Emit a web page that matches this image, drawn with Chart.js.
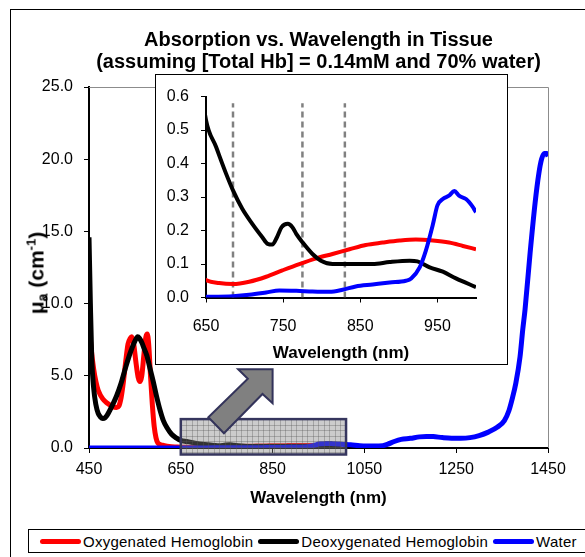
<!DOCTYPE html>
<html lang="en">
<head>
<meta charset="UTF-8" />
<title>Absorption vs. Wavelength in Tissue</title>
<script src="https://cdn.jsdelivr.net/npm/chart.js@4"></script>
<style>
  body { margin: 0; background: #fff; }
  .page {
    position: relative;
    width: 585px;
    height: 557px;
    overflow: hidden;
    font-family: 'Liberation Sans', Arial, sans-serif;
  }
  .frame {
    position: absolute;
    left: 10px;
    top: 9px;
    width: 640px;
    height: 640px;
    border: 1px solid #000;
  }
  #main { position: absolute; left: 0; top: 0; }
  .ytitle {
    position: absolute;
    left: 37px;
    top: 273px;
    transform: translate(-50%, -50%) rotate(-90deg);
    font-size: 21px;
    font-weight: bold;
    white-space: nowrap;
    line-height: 1;
  }
  .ytitle sub { font-size: 14px; vertical-align: -4px; }
  .ytitle sup { font-size: 13px; vertical-align: 8px; }
  .inset {
    position: absolute;
    left: 155px;
    top: 74px;
    width: 351px;
    height: 289px;
    border: 1.5px solid #000;
    background: #fff;
  }
  .inset canvas { position: absolute; left: 0; top: 0; }
  .legend {
    position: absolute;
    left: 28px;
    top: 529px;
    width: 640px;
    height: 24px;
    box-sizing: border-box;
    border: 1px solid #000;
    background: #fff;
    display: flex;
    align-items: center;
    padding-left: 11px;
    font-size: 15px;
    letter-spacing: 0.25px;
    color: #000;
  }
  .legend .swatch {
    display: inline-block;
    width: 41px;
    height: 5px;
    border-radius: 3px;
    margin-right: 2px;
  }
  .legend .item { display: flex; align-items: center; margin-right: 5px; white-space: nowrap; }
</style>
</head>
<body>
<div class="page">
  <div class="frame"></div>
  <canvas id="main" width="585" height="557"></canvas>
  <div class="ytitle">μ<sub>a</sub> (cm<sup>-1</sup>)</div>
  <div class="inset"><canvas id="inset" width="351" height="289"></canvas></div>
  <div class="legend" id="legend"></div>
</div>
<script>
  // data (wavelength in nm, absorption coefficient in cm^-1)
  const titleLines = ['Absorption vs. Wavelength in Tissue', '(assuming [Total Hb] = 0.14mM and 70% water)'];
  const seriesNames = ['Oxygenated Hemoglobin', 'Deoxygenated Hemoglobin', 'Water'];
  const seriesColors = ['#ff0000', '#000000', '#0000ff'];

  const oxyNm = [450, 455, 460, 465, 470, 480, 490, 500, 510, 515, 520, 525, 530, 535, 540, 543, 547, 552, 557, 561,
    565, 570, 574, 577, 580, 584, 588, 592, 596, 600, 610, 620, 630, 640, 650, 667, 685, 706, 728, 749,
    771, 793, 814, 836, 857, 879, 901, 922, 944, 965, 983, 1000];
  const oxyMua = [8.8, 6.8, 5.5, 4.6, 4.0, 3.4, 3.1, 2.9, 2.8, 2.9, 3.5, 4.6, 6.0, 7.2, 7.6, 7.7, 7.3, 6.0, 4.9, 4.6,
    5.0, 6.6, 7.7, 7.9, 7.2, 5.0, 3.0, 1.5, 0.7, 0.35, 0.2, 0.13, 0.09, 0.07, 0.052, 0.043, 0.04, 0.047, 0.062, 0.081,
    0.10, 0.117, 0.13, 0.144, 0.157, 0.164, 0.17, 0.173, 0.17, 0.164, 0.154, 0.144];

  const deoxyNm = [450, 453, 456, 460, 465, 470, 475, 480, 485, 490, 500, 510, 520, 530, 540, 550, 556, 560, 565, 570,
    576, 583, 590, 597, 605, 612, 620, 630, 640, 650, 663, 676, 685, 697, 710, 723, 730, 736, 742, 748,
    756, 762, 767, 775, 788, 799, 814, 844, 866, 888, 914, 924, 940, 957, 974, 1000];
  const deoxyMua = [14.6, 10.0, 6.2, 4.2, 3.0, 2.4, 2.15, 2.05, 2.1, 2.3, 2.9, 3.6, 4.5, 5.6, 6.6, 7.4, 7.7, 7.6, 7.3, 6.9,
    6.4, 5.5, 4.6, 3.6, 2.6, 1.9, 1.4, 0.95, 0.7, 0.53, 0.45, 0.37, 0.32, 0.265, 0.22, 0.18, 0.16, 0.158, 0.18, 0.21,
    0.22, 0.21, 0.19, 0.165, 0.13, 0.11, 0.10, 0.10, 0.10, 0.106, 0.11, 0.108, 0.09, 0.077, 0.057, 0.031];

  const waterNm = [450, 500, 550, 600, 650, 685, 706, 728, 745, 767, 788, 810, 827, 844, 866, 888, 909, 916, 927, 935,
    944, 950, 957, 965, 972, 978, 987, 996, 1000, 1020, 1040, 1055, 1070, 1090, 1100, 1115, 1130, 1150, 1170, 1185,
    1200, 1220, 1240, 1260, 1280, 1300, 1320, 1340, 1355, 1365, 1372, 1380, 1389, 1395, 1400, 1411, 1422, 1430, 1436, 1442,
    1447, 1450];
  const waterMua = [0, 0, 0, 0.001, 0.002, 0.004, 0.008, 0.015, 0.021, 0.02, 0.018, 0.017, 0.023, 0.033, 0.039, 0.045, 0.05, 0.057, 0.09, 0.14,
    0.217, 0.275, 0.294, 0.304, 0.318, 0.304, 0.294, 0.27, 0.255, 0.22, 0.15, 0.13, 0.13, 0.16, 0.25, 0.45, 0.6, 0.67, 0.77, 0.8,
    0.79, 0.72, 0.68, 0.68, 0.72, 0.86, 1.1, 1.45, 1.9, 2.6, 3.4, 4.5, 6.3, 8.2, 9.6, 13.5, 17.0, 19.0, 20.0, 20.4,
    20.4, 20.2];

  // dashed marker wavelengths in the inset
  const markerNm = [685, 775, 830];
  const markerTop = 0.58;

  const mainXTicks = [450, 650, 850, 1050, 1250, 1450];
  const mainYTicks = [0, 5, 10, 15, 20, 25];
  const insetXTicks = [650, 750, 850, 950];
  const insetYTicks = [0, 0.1, 0.2, 0.3, 0.4, 0.5, 0.6];

  // zoom box (nm, cm^-1) and the arrow pointing at the inset
  const zoomBox = { x0: 650, x1: 1010, y0: -0.45, y1: 2.0 };
  const arrowShape = [[775, 5.45], [850, 5.45], [850, 3.1], [828, 3.74], [744, 1.02], [710, 2.13], [796, 4.8]];

  // setup
  const FONT = "'Liberation Sans', Arial, sans-serif";
  Chart.defaults.font.family = FONT;
  Chart.defaults.color = '#000';

  const toPoints = (xs, ys) => xs.map((x, i) => ({ x: x, y: ys[i] }));
  const curves = [toPoints(oxyNm, oxyMua), toPoints(deoxyNm, deoxyMua), toPoints(waterNm, waterMua)];

  function curveSets(width) {
    return curves.map((pts, i) => ({
      label: seriesNames[i],
      data: pts,
      borderColor: seriesColors[i],
      borderWidth: width,
      pointRadius: 0,
      cubicInterpolationMode: 'monotone',
      order: 3 - i,
    }));
  }

  function axisStyle(tickList, extra) {
    return Object.assign({
      type: 'linear',
      afterBuildTicks: s => { s.ticks = tickList.map(v => ({ value: v })); },
      grid: { drawOnChartArea: false, drawTicks: true, tickLength: 5, tickColor: '#000', tickWidth: 1 },
      border: { color: '#000', width: 2 },
    }, extra);
  }

  const mainExtras = {
    id: 'mainExtras',
    beforeDatasetsDraw(chart) {
      const { ctx, chartArea: a } = chart;
      ctx.save();
      ctx.strokeStyle = '#8c8c8c';
      ctx.lineWidth = 1;
      ctx.beginPath();
      ctx.moveTo(a.left, Math.round(a.top) + 0.5);
      ctx.lineTo(Math.round(a.right) + 0.5, Math.round(a.top) + 0.5);
      ctx.lineTo(Math.round(a.right) + 0.5, a.bottom);
      ctx.stroke();
      ctx.restore();
    },
    afterDatasetsDraw(chart) {
      const { ctx } = chart;
      const x = chart.scales.x, y = chart.scales.y;
      const l = x.getPixelForValue(zoomBox.x0), r = x.getPixelForValue(zoomBox.x1);
      const t = y.getPixelForValue(zoomBox.y1), b = y.getPixelForValue(zoomBox.y0);
      ctx.save();
      ctx.fillStyle = 'rgba(128,128,128,0.4)';
      ctx.fillRect(l, t, r - l, b - t);
      ctx.strokeStyle = 'rgba(90,90,90,0.35)';
      ctx.lineWidth = 1;
      ctx.beginPath();
      for (let gx = l + 5.5; gx < r - 1; gx += 5.5) {
        ctx.moveTo(Math.round(gx) + 0.5, t);
        ctx.lineTo(Math.round(gx) + 0.5, b);
      }
      for (let gy = t + 5.5; gy < b - 1; gy += 5.5) {
        ctx.moveTo(l, Math.round(gy) + 0.5);
        ctx.lineTo(r, Math.round(gy) + 0.5);
      }
      ctx.stroke();
      ctx.strokeStyle = '#36365e';
      ctx.lineWidth = 2.5;
      ctx.strokeRect(l, t, r - l, b - t);

      ctx.beginPath();
      arrowShape.forEach(([nm, v], i) => {
        const px = x.getPixelForValue(nm), py = y.getPixelForValue(v);
        if (i) ctx.lineTo(px, py); else ctx.moveTo(px, py);
      });
      ctx.closePath();
      ctx.fillStyle = '#808080';
      ctx.fill();
      ctx.strokeStyle = '#33335a';
      ctx.lineWidth = 2;
      ctx.stroke();
      ctx.restore();
    }
  };

  // Render area
  const mainChart = new Chart(document.getElementById('main'), {
    type: 'line',
    data: { datasets: curveSets(5) },
    options: {
      responsive: false,
      animation: false,
      devicePixelRatio: 1,
      layout: { padding: { left: 0, right: 37, top: 0, bottom: 39 } },
      plugins: {
        legend: { display: false },
        tooltip: { enabled: false },
        title: {
          display: true,
          text: titleLines,
          fullSize: false,
          color: '#000',
          font: { size: 20, weight: 'bold', lineHeight: 1.1 },
          padding: { top: 29, bottom: 14 },
        },
      },
      scales: {
        x: axisStyle(mainXTicks, {
          min: 450,
          max: 1450,
          afterFit: s => { s.height = 70; },
          ticks: { font: { size: 16 }, color: '#000', padding: 7, maxRotation: 0, callback: v => String(v) },
          title: { display: true, text: 'Wavelength (nm)', color: '#000', font: { size: 17, weight: 'bold' }, padding: { top: 0, bottom: 9 } },
        }),
        y: axisStyle(mainYTicks, {
          min: 0,
          max: 25,
          afterFit: s => { s.width = 89; },
          ticks: { font: { size: 16 }, color: '#000', padding: 11, callback: v => v.toFixed(1) },
        }),
      },
    },
    plugins: [mainExtras],
  });

  const markerSets = markerNm.map(nm => ({
    label: 'marker ' + nm,
    data: [{ x: nm, y: 0 }, { x: nm, y: markerTop }],
    borderColor: '#808080',
    borderWidth: 2.5,
    borderDash: [6, 4],
    pointRadius: 0,
    order: 10,
  }));

  const insetChart = new Chart(document.getElementById('inset'), {
    type: 'line',
    data: { datasets: curveSets(4).concat(markerSets) },
    options: {
      responsive: false,
      animation: false,
      devicePixelRatio: 1,
      layout: { padding: { left: 0, right: 31, top: 16, bottom: 0 } },
      plugins: {
        legend: { display: false },
        tooltip: { enabled: false },
      },
      scales: {
        x: axisStyle(insetXTicks, {
          min: 650,
          max: 1000,
          afterFit: s => { s.height = 66.5; },
          ticks: { font: { size: 16 }, color: '#000', padding: 14, maxRotation: 0, callback: v => String(v) },
          title: { display: true, text: 'Wavelength (nm)', color: '#000', font: { size: 17, weight: 'bold' }, padding: { top: 0, bottom: 0 } },
        }),
        y: axisStyle(insetYTicks, {
          min: 0,
          max: 0.6,
          afterFit: s => { s.width = 50; },
          ticks: { font: { size: 16 }, color: '#000', padding: 12, callback: v => v.toFixed(1) },
        }),
      },
    },
  });

  // legend with line samples
  const legendEl = document.getElementById('legend');
  seriesNames.forEach((name, i) => {
    const item = document.createElement('span');
    item.className = 'item';
    const sw = document.createElement('span');
    sw.className = 'swatch';
    sw.style.background = seriesColors[i];
    const txt = document.createElement('span');
    txt.textContent = name;
    item.appendChild(sw);
    item.appendChild(txt);
    legendEl.appendChild(item);
  });
</script>
</body>
</html>
